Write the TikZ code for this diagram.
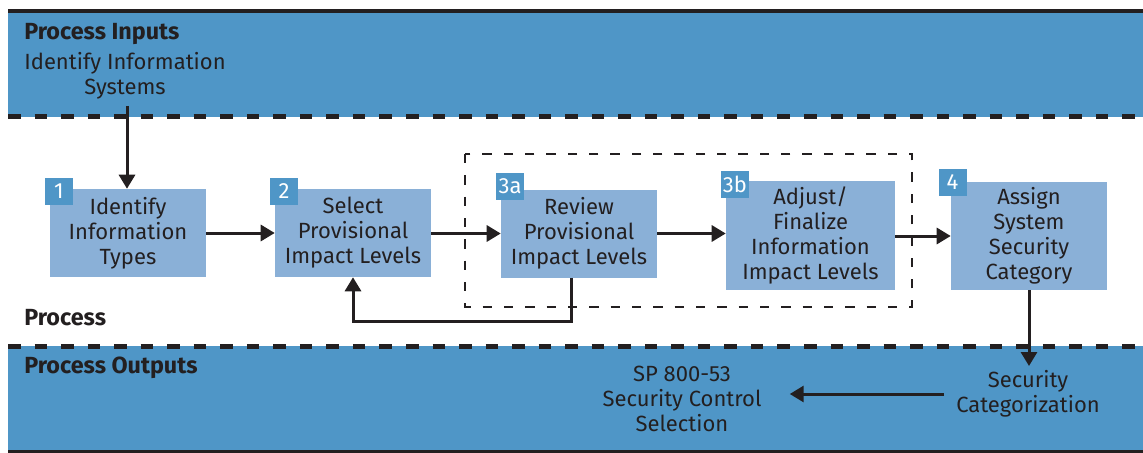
\documentclass[tikz,border=0pt]{standalone}
\usepackage{fontspec}
\setmainfont{Fira Sans}
\usetikzlibrary{arrows.meta}
\definecolor{band}{HTML}{4F96C7}
\definecolor{boxc}{HTML}{8AB0D7}
\definecolor{ink}{HTML}{231F20}
\begin{document}
\begin{tikzpicture}[x=0.75pt,y=-0.75pt,
 txt/.style={font=\fontsize{16.5}{18.75}\selectfont, text=ink, align=center, inner sep=0pt},
 stepbox/.style={fill=boxc, draw=none, txt, minimum width=117pt, minimum height=66pt},
 badge/.style={fill=band, text=white, font=\fontsize{16.5}{18}\selectfont, minimum width=21pt, minimum height=20.25pt, inner sep=0pt},
 arr/.style={draw=ink, line width=2.25pt, -{Triangle[length=10.5pt,width=12pt]}},
 bandline/.style={draw=ink, line width=3.75pt, dash pattern=on 9.4pt off 10.5pt},
 grpframe/.style={draw=ink, line width=1.9pt, dash pattern=on 7pt off 9pt},
 hd/.style={font=\fontsize{17.5}{18}\selectfont\bfseries, text=ink, anchor=west, inner sep=0pt}]
\useasboundingbox (0,0) rectangle (1143,453);
% bands
\fill[band] (8,12) rectangle (1143,117);
\fill[band] (8,346) rectangle (1143,451);
\draw[ink, line width=3pt] (8,11) -- (1143,11);
\draw[ink, line width=1.8pt] (8,451.5) -- (1143,451.5);
\draw[bandline] (8,117) -- (1143,117);
\draw[bandline] (8,346) -- (1143,346);
% headings
\node[hd] (hin) at (24,34) {Process Inputs};
\node[hd] (hpr) at (24,318) {Process};
\node[hd] (hout) at (24,368) {Process Outputs};
\node[txt] (inp) at (125,76) {Identify Information\\Systems};
% group frame
\draw[grpframe] (465,154) rectangle (912,307);
% boxes
\node[stepbox] (b1) at (128,233) {Identify\\Information\\Types};
\node[stepbox] (b2) at (353,233) {Select\\Provisional\\Impact Levels};
\node[stepbox] (b3a) at (579,233.5) {Review\\Provisional\\Impact Levels};
\node[stepbox, minimum width=126.75pt, minimum height=81.75pt] (b3b) at (810.5,235.5) {Adjust/\\Finalize\\Information\\Impact Levels};
\node[stepbox, minimum height=81pt] (b4) at (1029,236) {Assign\\System\\Security\\Category};
% badges
\node[badge] (n1) at (59,191) {1};
\node[badge] (n2) at (284,191) {2};
\node[badge] (n3a) at (510,186) {3a};
\node[badge] (n3b) at (735,184) {3b};
\node[badge] (n4) at (952.5,182.5) {4};
% outputs
\node[txt, inner xsep=9pt] (sc) at (1028,394) {Security\\Categorization};
\node[txt, inner xsep=21pt] (sp) at (682,399) {SP 800-53\\Security Control\\Selection};
% connectors
\coordinate (inbot) at (127,106);
\coordinate (sctop) at (1029,366);
\draw[arr] (inbot) -- (inbot |- b1.north);
\draw[arr] (b1) -- (b2);
\draw[arr] (b2.east |- b3a.west) -- (b3a.west);
\draw[arr] (b3a.east) -- (b3a.east -| b3b.west);
\draw[arr] (b3b.east |- b4.west) -- (b4.west);
\draw[arr] ([xshift=-6pt]b3a.south) -- ++(0,44) -| (b2.south);
\draw[arr] (b4.south) -- (sctop);
\draw[arr] (sc.west) -- (sc.west -| sp.east);
\end{tikzpicture}
\end{document}
